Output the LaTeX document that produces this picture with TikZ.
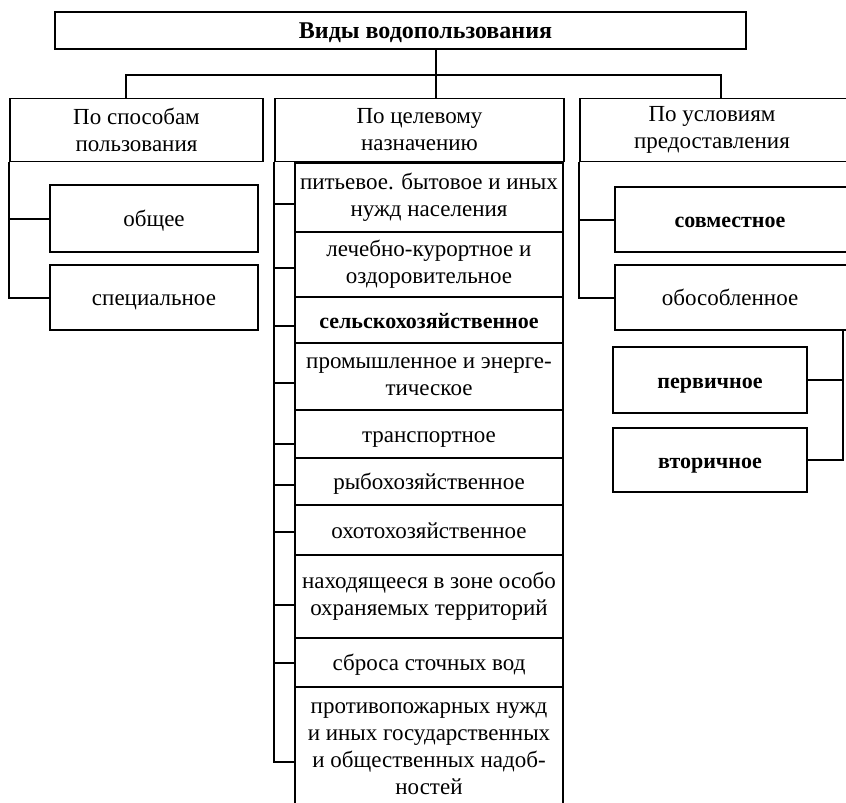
\documentclass[tikz,border=0pt]{standalone}
\usepackage{fontspec}
\setmainfont{Liberation Serif}
\begin{document}
\begin{tikzpicture}[x=1pt,y=-1pt,
  box/.style={draw,line width=1.8pt,align=center,inner sep=0pt,
    font=\fontsize{23}{27}\selectfont},
  one/.style={text height=16pt,text depth=0pt},
  bbox/.style={box,one,font=\fontsize{22}{27}\selectfont\bfseries},
  ln/.style={line width=2pt},
  line join=miter]
\useasboundingbox (0,0) rectangle (846,803);
\clip (0,0) rectangle (846,803);
% title
\node[box,one,minimum width=691pt,minimum height=37pt,font=\fontsize{24}{27}\selectfont\bfseries] (t) at (400.5,30.5) {\hspace*{50pt}Виды водопользования};
% headers
\node[box,minimum width=253pt,minimum height=63pt] (lh) at (136.5,130) {По способам\\пользования};
\node[box,minimum width=289pt,minimum height=63pt] (mh) at (419.5,130) {По целевому\\назначению};
\node[box,minimum width=320pt,minimum height=63pt] (rh) at (740,130) {\hspace*{-56pt}По условиям\\\hspace*{-56pt}предоставления};
% left
\node[box,one,minimum width=208pt,minimum height=67pt] (l1) at (154,218.5) {общее};
\node[box,one,minimum width=208pt,minimum height=65pt] (l2) at (154,297.5) {специальное};
% middle
\node[box,minimum width=268pt,minimum height=69pt] (m1) at (429,197.5) {питьевое. бытовое и иных\\нужд населения};
\node[box,minimum width=268pt,minimum height=65pt] (m2) at (429,264.5) {лечебно-курортное и\\оздоровительное};
\node[bbox,minimum width=268pt,minimum height=46pt] (m3) at (429,320) {сельскохозяйственное};
\node[box,minimum width=268pt,minimum height=67pt] (m4) at (429,376.5) {промышленное и энерге-\\тическое};
\node[box,one,minimum width=268pt,minimum height=48pt] (m5) at (429,434) {транспортное};
\node[box,one,minimum width=268pt,minimum height=47pt] (m6) at (429,481.5) {рыбохозяйственное};
\node[box,one,minimum width=268pt,minimum height=50pt] (m7) at (429,530) {охотохозяйственное};
\node[box,minimum width=268pt,minimum height=83pt] (m8) at (429,596.5) {находящееся в зоне особо\\охраняемых территорий};
\node[box,one,minimum width=268pt,minimum height=49pt] (m9) at (429,662.5) {сброса сточных вод};
\node[box,minimum width=268pt,minimum height=124pt] (m10) at (429,749) {противопожарных нужд\\и иных государственных\\и общественных надоб-\\ностей};
% right
\node[bbox,minimum width=285pt,minimum height=65pt] (r1) at (757.5,219.5) {\hspace*{-55pt}совместное};
\node[box,one,minimum width=285pt,minimum height=65pt] (r2) at (757.5,297.5) {\hspace*{-55pt}обособленное};
\node[bbox,minimum width=194pt,minimum height=66pt] (r3) at (710,380) {первичное};
\node[bbox,minimum width=194pt,minimum height=64pt] (r4) at (710,460) {вторичное};
% top connectors
\coordinate (jm) at (436,75);
\coordinate (jl) at (126,75);
\coordinate (jr) at (721,75);
\draw[ln] (t.south -| jm) -- (jm);
\draw[ln] (jl |- lh.north) -- (jl) -- (jr) -- (jr |- rh.north);
\draw[ln] (jm) -- (jm |- mh.north);
% left connectors
\draw[ln] (lh.south west) -- (lh.south west |- l2.west) -- (l2.west);
\draw[ln] (lh.south west |- l1.west) -- (l1.west);
% middle connectors
\coordinate (mv) at (274,762);
\draw[ln] (mh.south west) -- (mh.south west |- mv) -- ([yshift=-13pt]m10.west);
\foreach \n/\s in {m1/-6,m2/-3,m3/-6,m4/-6,m5/-10,m6/-3,m7/-2,m8/-8,m9/0}{
  \draw[ln] ([yshift=\s pt]\n.west -| mv) -- ([yshift=\s pt]\n.west);
}
% right connectors
\draw[ln] (rh.south west) -- (rh.south west |- r2.west) -- (r2.west);
\draw[ln] (rh.south west |- r1.west) -- (r1.west);
\coordinate (rb) at (843,330);
\draw[ln] (rb) -- (rb |- r4.east) -- (r4.east);
\draw[ln] (r3.east) -- (r3.east -| rb);
\end{tikzpicture}
\end{document}
